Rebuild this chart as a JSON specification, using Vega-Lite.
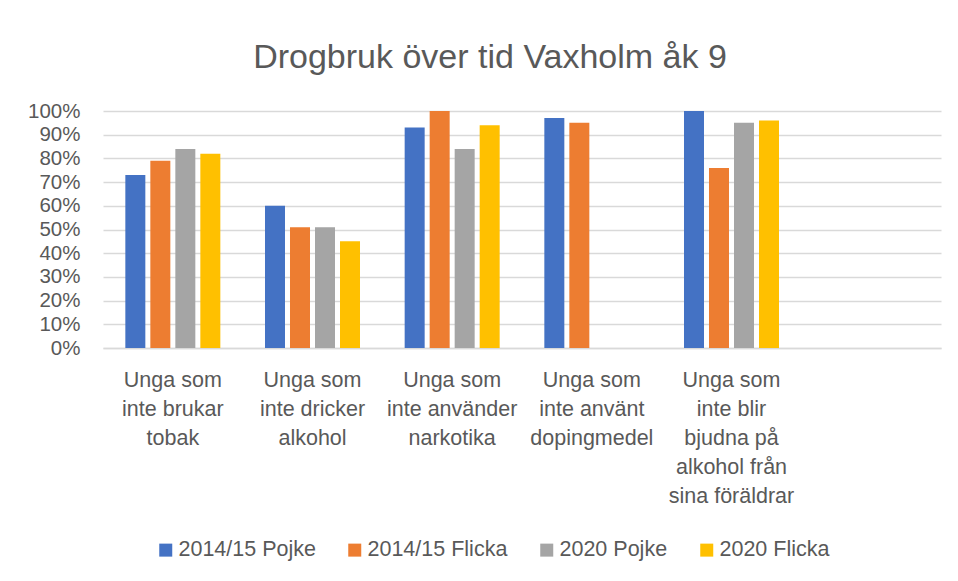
{
  "$schema": "https://vega.github.io/schema/vega-lite/v6.json",
  "width": 838,
  "height": 237,
  "autosize": {"type": "none"},
  "padding": {"left": 103, "top": 111, "right": 17, "bottom": 233},
  "background": "white",
  "title": {
    "text": "Drogbruk över tid Vaxholm åk 9",
    "font": "Liberation Sans",
    "fontSize": 34,
    "fontWeight": "normal",
    "color": "#595959",
    "anchor": "middle",
    "dx": -32,
    "offset": 26
  },
  "data": {
    "values": [
      {"kategori": "Unga som|inte brukar|tobak", "grupp": "2014/15 Pojke", "andel": 0.73},
      {"kategori": "Unga som|inte brukar|tobak", "grupp": "2014/15 Flicka", "andel": 0.79},
      {"kategori": "Unga som|inte brukar|tobak", "grupp": "2020 Pojke", "andel": 0.84},
      {"kategori": "Unga som|inte brukar|tobak", "grupp": "2020 Flicka", "andel": 0.82},
      {"kategori": "Unga som|inte dricker|alkohol", "grupp": "2014/15 Pojke", "andel": 0.60},
      {"kategori": "Unga som|inte dricker|alkohol", "grupp": "2014/15 Flicka", "andel": 0.51},
      {"kategori": "Unga som|inte dricker|alkohol", "grupp": "2020 Pojke", "andel": 0.51},
      {"kategori": "Unga som|inte dricker|alkohol", "grupp": "2020 Flicka", "andel": 0.45},
      {"kategori": "Unga som|inte använder|narkotika", "grupp": "2014/15 Pojke", "andel": 0.93},
      {"kategori": "Unga som|inte använder|narkotika", "grupp": "2014/15 Flicka", "andel": 1.00},
      {"kategori": "Unga som|inte använder|narkotika", "grupp": "2020 Pojke", "andel": 0.84},
      {"kategori": "Unga som|inte använder|narkotika", "grupp": "2020 Flicka", "andel": 0.94},
      {"kategori": "Unga som|inte använt|dopingmedel", "grupp": "2014/15 Pojke", "andel": 0.97},
      {"kategori": "Unga som|inte använt|dopingmedel", "grupp": "2014/15 Flicka", "andel": 0.95},
      {"kategori": "Unga som|inte blir|bjudna på|alkohol från|sina föräldrar", "grupp": "2014/15 Pojke", "andel": 1.00},
      {"kategori": "Unga som|inte blir|bjudna på|alkohol från|sina föräldrar", "grupp": "2014/15 Flicka", "andel": 0.76},
      {"kategori": "Unga som|inte blir|bjudna på|alkohol från|sina föräldrar", "grupp": "2020 Pojke", "andel": 0.95},
      {"kategori": "Unga som|inte blir|bjudna på|alkohol från|sina föräldrar", "grupp": "2020 Flicka", "andel": 0.96}
    ]
  },
  "mark": {"type": "bar"},
  "encoding": {
    "x": {
      "field": "kategori",
      "type": "nominal",
      "sort": null,
      "scale": {
        "domain": [
          "Unga som|inte brukar|tobak",
          "Unga som|inte dricker|alkohol",
          "Unga som|inte använder|narkotika",
          "Unga som|inte använt|dopingmedel",
          "Unga som|inte blir|bjudna på|alkohol från|sina föräldrar",
          " "
        ],
        "paddingInner": 0.284,
        "paddingOuter": 0.142
      },
      "axis": {
        "title": null,
        "labelAngle": 0,
        "labelExpr": "split(datum.label, '|')",
        "labelFont": "Liberation Sans",
        "labelFontSize": 21.5,
        "labelColor": "#595959",
        "labelLineHeight": 29,
        "labelPadding": 21,
        "labelLimit": 200,
        "ticks": false,
        "domainColor": "#D9D9D9",
        "domainWidth": 1.5
      }
    },
    "xOffset": {
      "field": "grupp",
      "type": "nominal",
      "scale": {
        "domain": ["2014/15 Pojke", "2014/15 Flicka", "2020 Pojke", "2020 Flicka"],
        "paddingInner": 0.2,
        "paddingOuter": 0.1
      }
    },
    "y": {
      "field": "andel",
      "type": "quantitative",
      "scale": {"domain": [0, 1], "nice": false},
      "axis": {
        "title": null,
        "values": [0, 0.1, 0.2, 0.3, 0.4, 0.5, 0.6, 0.7, 0.8, 0.9, 1],
        "format": ".0%",
        "labelFont": "Liberation Sans",
        "labelFontSize": 20.5,
        "labelColor": "#595959",
        "labelPadding": 23,
        "ticks": false,
        "domain": false,
        "grid": true,
        "gridColor": "#D9D9D9",
        "gridWidth": 1.5
      }
    },
    "color": {
      "field": "grupp",
      "type": "nominal",
      "scale": {
        "domain": ["2014/15 Pojke", "2014/15 Flicka", "2020 Pojke", "2020 Flicka"],
        "range": ["#4472C4", "#ED7D31", "#A5A5A5", "#FFC000"]
      },
      "legend": {
        "title": null,
        "orient": "none",
        "direction": "horizontal",
        "legendX": 52,
        "legendY": 428,
        "symbolType": "square",
        "symbolSize": 169,
        "symbolStrokeWidth": 0,
        "labelFont": "Liberation Sans",
        "labelFontSize": 21.5,
        "labelColor": "#595959",
        "labelOffset": 2,
        "columnPadding": 28,
        "labelLimit": 300
      }
    }
  },
  "config": {
    "view": {"stroke": null}
  }
}
